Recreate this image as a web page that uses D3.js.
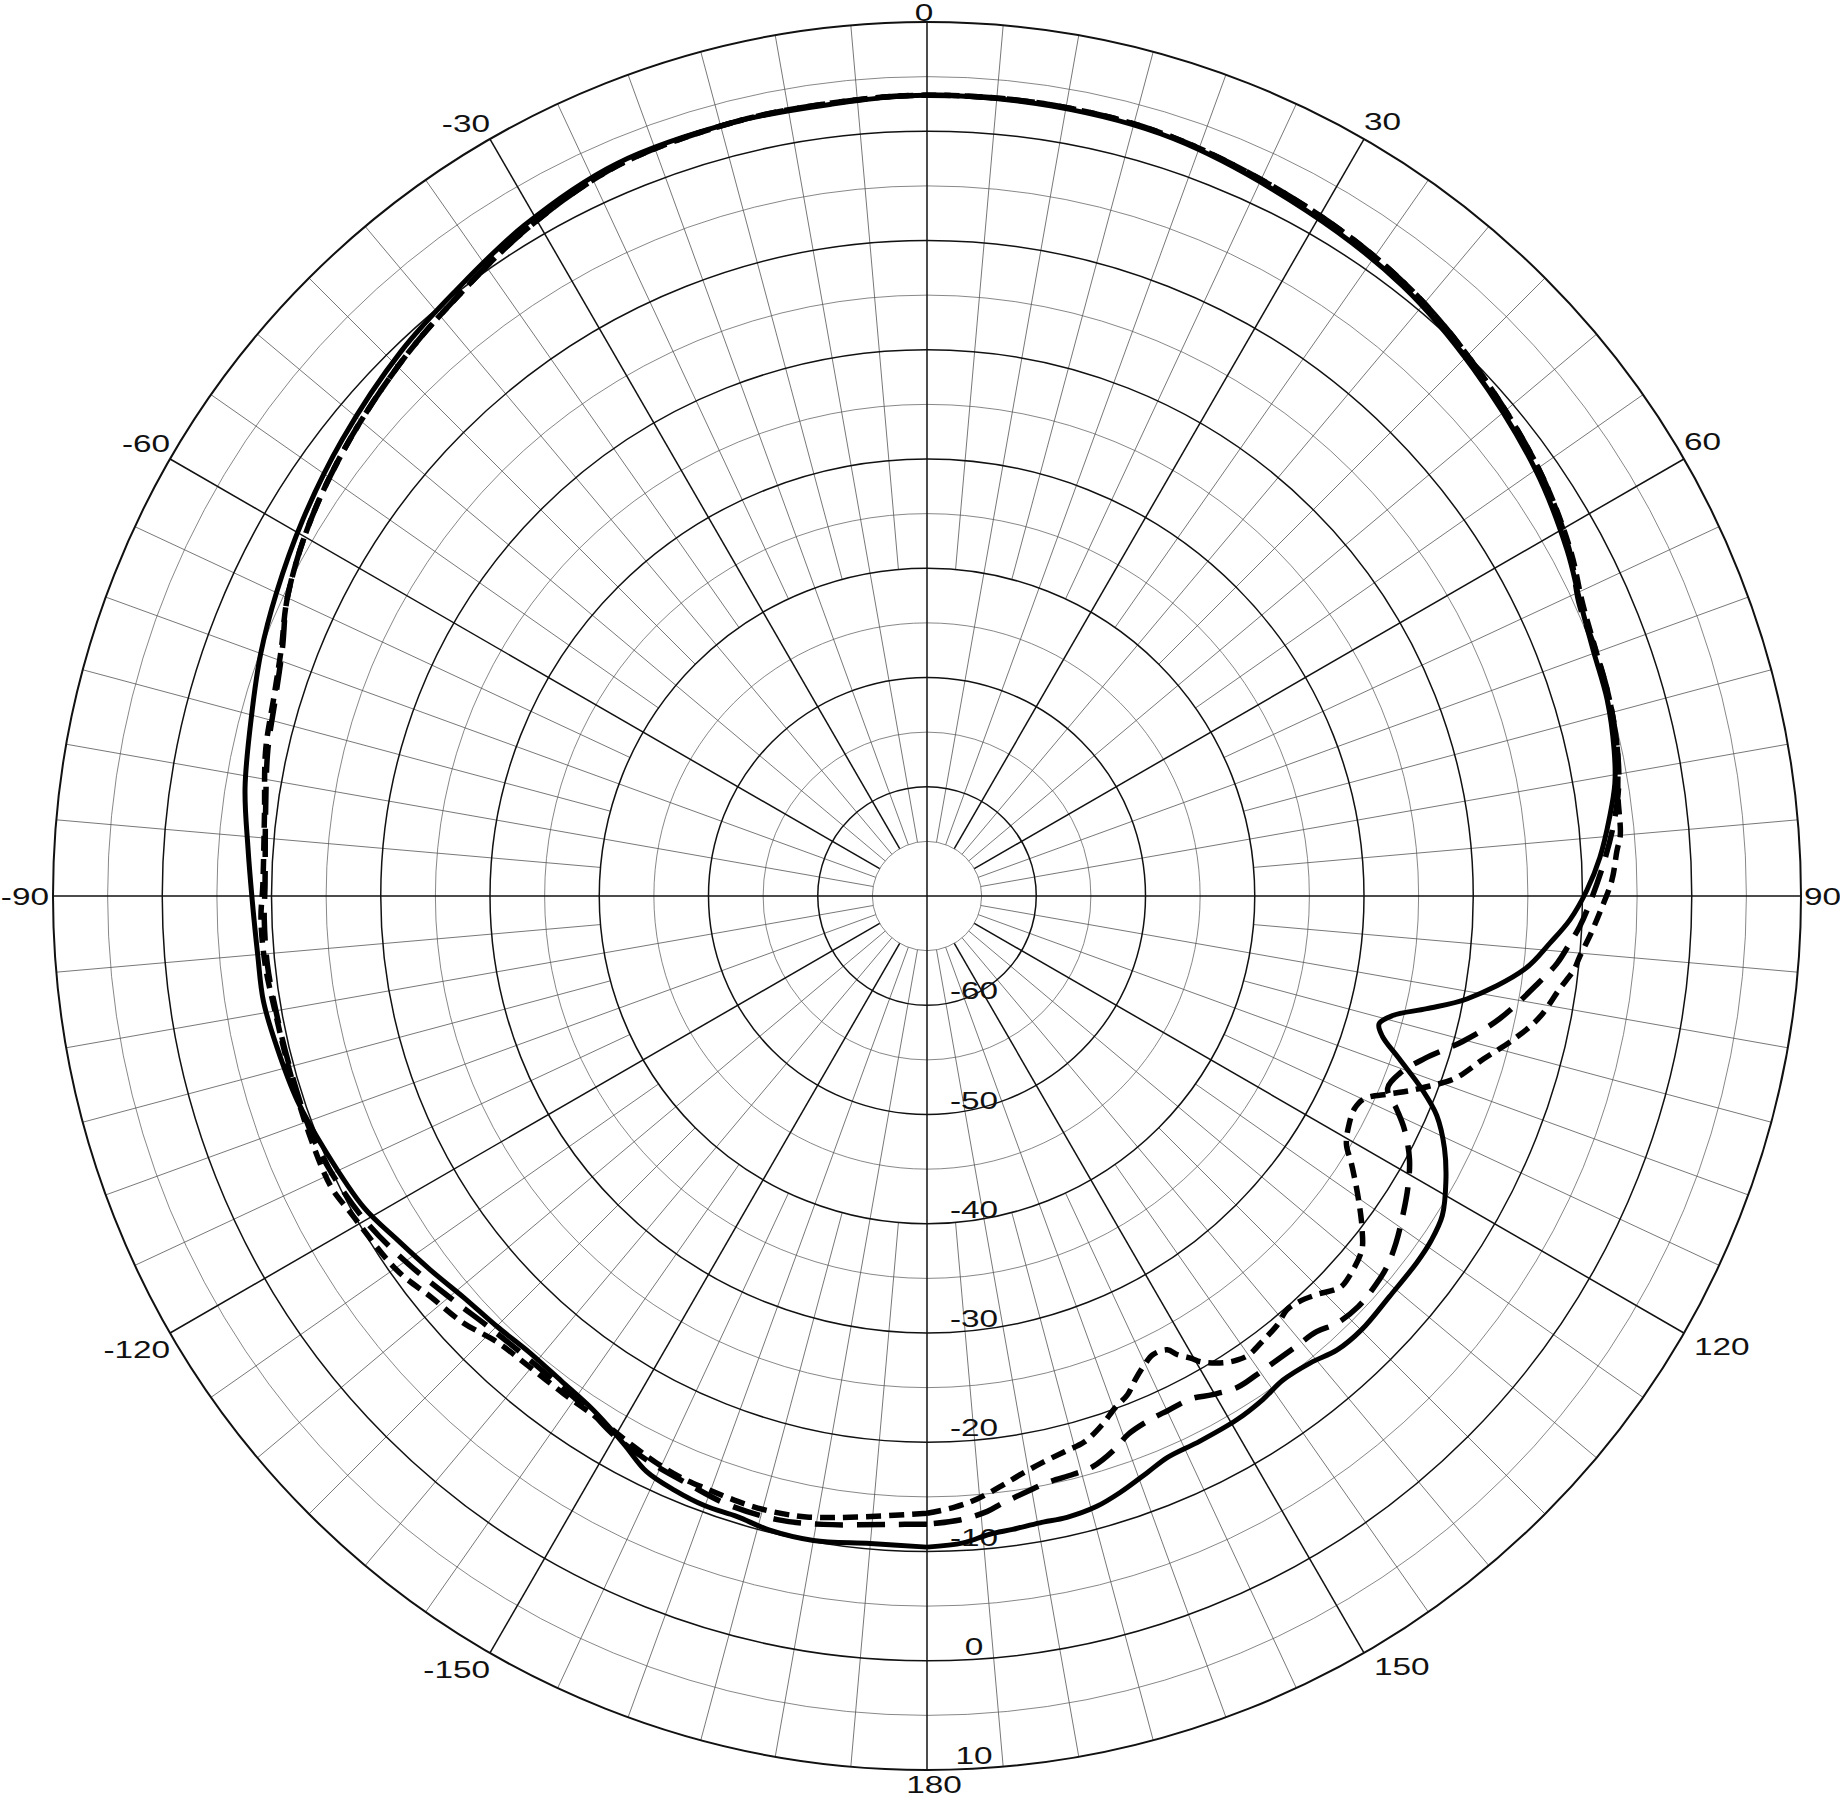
<!DOCTYPE html>
<html><head><meta charset="utf-8">
<script src="https://cdn.jsdelivr.net/npm/d3@7"></script>
<style>body{margin:0;background:#fff}svg{display:block}</style>
</head><body>
<svg id="c" width="1840" height="1800"></svg>
<script>
// ---- data (angle in degrees, level in dB) ----
const solidAngles = [-180,-175,-170,-166,-163,-160,-157,-154,-151,-147,-143,-139,-135,-131,-127,-123,-119,-113,-108,-103,-99,-95,-90,-86,-81,-75,-70,-65,-59,-52,-44,-38,-31,-23,-14,-7,0,9,18,29,38,46,55,61.6,65.6,69.7,73.9,78,80.7,83.4,86.7,89.5,92.1,94.3,97,100.8,102.7,104.4,105.8,107.1,109,111.3,113.3,116,118.8,121.8,124.4,126.8,130.9,134.9,137.9,140.6,143.7,146.3,149.4,153.4,156.8,159.1,162.1,164.5,167.3,169.8,172.3,174.4,176.8,180];
const solidDb = [-10.4,-10.5,-10.1,-10.2,-10.6,-10.6,-10.9,-11.4,-12.7,-13.9,-14.4,-14.6,-14.3,-13.9,-13.1,-12.2,-11.1,-10.2,-9.4,-8.9,-8.5,-8.5,-8.2,-7.7,-6.8,-6.0,-5.1,-4.3,-3.3,-2.1,-0.7,0.2,1.6,2.8,3.0,3.0,3.3,3.2,2.9,1.7,0.8,-0.5,-2.0,-3.4,-4.4,-5.0,-5.2,-5.7,-6.2,-7.1,-8.3,-9.6,-11.1,-12.8,-14.9,-19.7,-23.1,-26.0,-27.0,-26.4,-24.3,-21.4,-19.2,-17.3,-15.8,-14.5,-14.1,-14.0,-14.0,-13.8,-14.0,-14.7,-15.0,-14.6,-14.3,-14.2,-14.1,-13.5,-12.6,-12.0,-11.7,-11.7,-11.5,-11.3,-10.7,-10.4];

const longAngles = [-180,-177,-170.6,-166.5,-161.8,-158,-154,-150,-147,-143,-140,-135,-130,-125,-120,-115,-111,-105,-100.5,-96,-92,-89,-83,-77.5,-73.3,-69,-65,-59,-52,-44,-38,-31,-23,-14,-7,0,9,18,29,38,46,55,61.6,66,70,74,78,81,84,87,90.3,92.7,94.2,96.1,98,102.1,105.2,108.1,110.6,112.7,114.4,116,118.6,121.3,124,126.5,129,131.5,133.6,136.2,138.2,140.8,143,145.4,147.7,150.2,152.2,154.9,156.9,159.5,161.3,163.8,165.8,168.4,170.5,172.9,174.4,177,180];
const longDb = [-12.5,-12.4,-11.7,-11.3,-11.4,-11.9,-12.3,-12.9,-13.6,-14.0,-14.1,-13.8,-12.9,-11.7,-10.6,-9.9,-9.6,-9.6,-9.5,-9.3,-9.3,-9.4,-9.0,-8.2,-7.7,-6.8,-5.4,-4.0,-2.7,-1.3,-0.3,1.2,2.6,3.0,3.1,3.3,3.3,3.0,2.0,1.1,-0.2,-1.7,-3.2,-4.6,-4.8,-5.0,-5.4,-5.9,-6.8,-7.9,-9.2,-10.2,-11.0,-12.0,-13.4,-16.4,-19.2,-22.1,-23.8,-24.3,-22.8,-21.4,-19.7,-18.5,-17.5,-16.6,-15.9,-15.6,-15.5,-15.8,-16.5,-16.7,-16.8,-16.8,-16.8,-17.4,-18.0,-18.0,-17.9,-17.4,-16.5,-15.6,-15.4,-15.2,-14.7,-14.0,-13.4,-12.8,-12.5];

const shortAngles = [-180,-173.6,-169,-166,-163.5,-161.6,-159.7,-157,-154.5,-152,-147.6,-143.8,-139.9,-136.1,-132.6,-128.9,-125.2,-118.8,-116,-111,-105,-100,-96,-92,-89,-83,-77.5,-73,-69,-65,-59,-52,-44,-38,-31,-23,-14,-7,0,9,18,29,38,46,55,61.6,66,70,74,78,81.8,85,86.2,88.7,91.4,93.4,95.3,96.5,98.4,101.3,103.7,106.3,109.1,110.7,112,113.2,114.9,116.5,118.3,120.6,122.2,124.4,126.6,127.5,129.1,131.9,133.4,135.7,137.4,139,140.8,142.9,144.9,146.2,147.6,149.5,150.3,151.4,152.1,153.8,155.1,156.7,158.1,159.8,161.7,163.9,166.1,168.4,170.7,173,175.3,177.4,180];
const shortDb = [-13.5,-12.8,-12.1,-11.9,-11.9,-12.0,-12.1,-12.2,-12.5,-12.9,-13.5,-13.6,-13.6,-13.3,-12.3,-11.6,-10.6,-9.8,-9.3,-9.4,-9.5,-9.4,-9.1,-9.0,-9.2,-8.9,-8.0,-7.5,-6.7,-5.4,-4.0,-2.7,-1.3,-0.3,1.2,2.6,3.0,3.1,3.3,3.3,3.0,2.0,1.1,-0.2,-1.7,-3.1,-4.3,-4.8,-5.0,-5.4,-6.1,-6.3,-6.7,-7.3,-8.4,-9.2,-10.0,-10.4,-11.5,-12.9,-14.7,-16.9,-18.9,-20.8,-22.4,-24.0,-25.9,-26.3,-26.1,-25.4,-24.1,-22.3,-20.5,-19.8,-18.7,-18.0,-17.9,-19.0,-19.6,-19.8,-19.3,-19.0,-18.7,-18.9,-19.4,-20.5,-21.3,-22.2,-23.0,-23.2,-22.7,-21.8,-20.8,-20.1,-19.0,-18.0,-17.6,-17.1,-16.4,-15.5,-14.6,-14.0,-13.5];

const angleLabels = [0,30,60,90,120,150,180,-150,-120,-90,-60,-30];
const radialLabels = [-60,-50,-40,-30,-20,-10,0,10];

// ---- layout ----
const cx = 927, cy = 896, R = 874;
const r = d3.scaleLinear().domain([-70,10]).range([0,R]);
const rad = d => d*Math.PI/180;
const svg = d3.select('#c');
svg.append('rect').attr('width',1840).attr('height',1800).attr('fill','#fff');
const g = svg.append('g').attr('transform',`translate(${cx},${cy})`);

// minor rings (every 10 dB, offset 5)
g.append('g').selectAll('circle').data(d3.range(-65,10,10)).join('circle')
  .attr('r',d=>r(d)).attr('fill','none').attr('stroke','#6a6a6a').attr('stroke-width',0.8);

// spokes
const spokes = d3.range(0,360,5);
g.append('g').selectAll('line').data(spokes.filter(a=>a%30!==0)).join('line')
  .attr('x1',a=>Math.sin(rad(a))*(a%10===0? r(-65) : r(-40)))
  .attr('y1',a=>-Math.cos(rad(a))*(a%10===0? r(-65) : r(-40)))
  .attr('x2',a=>Math.sin(rad(a))*R).attr('y2',a=>-Math.cos(rad(a))*R)
  .attr('stroke','#555').attr('stroke-width',0.8);
g.append('g').selectAll('line').data(spokes.filter(a=>a%30===0)).join('line')
  .attr('x1',a=>a%90===0?0:Math.sin(rad(a))*r(-65))
  .attr('y1',a=>a%90===0?0:-Math.cos(rad(a))*r(-65))
  .attr('x2',a=>Math.sin(rad(a))*R).attr('y2',a=>-Math.cos(rad(a))*R)
  .attr('stroke','#111').attr('stroke-width',1.5);

// major rings
g.append('g').selectAll('circle').data(d3.range(-60,10,10)).join('circle')
  .attr('r',d=>r(d)).attr('fill','none').attr('stroke','#111').attr('stroke-width',1.5);
g.append('circle').attr('r',r(10)).attr('fill','none').attr('stroke','#111').attr('stroke-width',2);

// labels
const font = "'Liberation Sans', Arial, sans-serif";
function place(a){
  const x = Math.sin(rad(a))*R, y = -Math.cos(rad(a))*R;
  if (a===0) return {x:x-3,y:y-1,anchor:'middle'};
  if (a===180) return {x:x+7,y:y+23,anchor:'middle'};
  if (a===90) return {x:x+3,y:y+9,anchor:'start'};
  if (a===-90) return {x:x-4,y:y+9,anchor:'end'};
  if (a===30||a===60) return {x:x,y:y-9,anchor:'start'};
  if (a===-30||a===-60) return {x:x,y:y-7,anchor:'end'};
  if (a===120||a===150) return {x:x+10,y:y+22,anchor:'start'};
  return {x:x,y:y+25,anchor:'end'};
}
g.append('g').selectAll('text').data(angleLabels).join('text')
  .each(function(a){const p=place(a);d3.select(this).attr('transform',`translate(${p.x},${p.y}) scale(1.45,1)`).attr('text-anchor',p.anchor);})
  .attr('font-family',font).attr('font-size',23).attr('fill','#111').text(a=>String(a));
g.append('g').selectAll('text').data(radialLabels).join('text')
  .attr('transform',v=>`translate(47,${r(v)-6}) scale(1.45,1)`).attr('text-anchor','middle')
  .attr('font-family',font).attr('font-size',23).attr('fill','#111').text(v=>String(v));

// curves
const line = d3.lineRadial().angle(d=>rad(d[0])).radius(d=>r(d[1])).curve(d3.curveCatmullRom.alpha(0.5));
const zip = (A,V) => A.map((a,i)=>[a,V[i]]);
g.append('path').datum(zip(shortAngles,shortDb)).attr('d',line).attr('fill','none')
  .attr('stroke','#000').attr('stroke-width',5.5).attr('stroke-dasharray','15 8');
g.append('path').datum(zip(longAngles,longDb)).attr('d',line).attr('fill','none')
  .attr('stroke','#000').attr('stroke-width',5.5).attr('stroke-dasharray','28 14');
g.append('path').datum(zip(solidAngles,solidDb)).attr('d',line).attr('fill','none')
  .attr('stroke','#000').attr('stroke-width',5);
</script>
</body></html>
